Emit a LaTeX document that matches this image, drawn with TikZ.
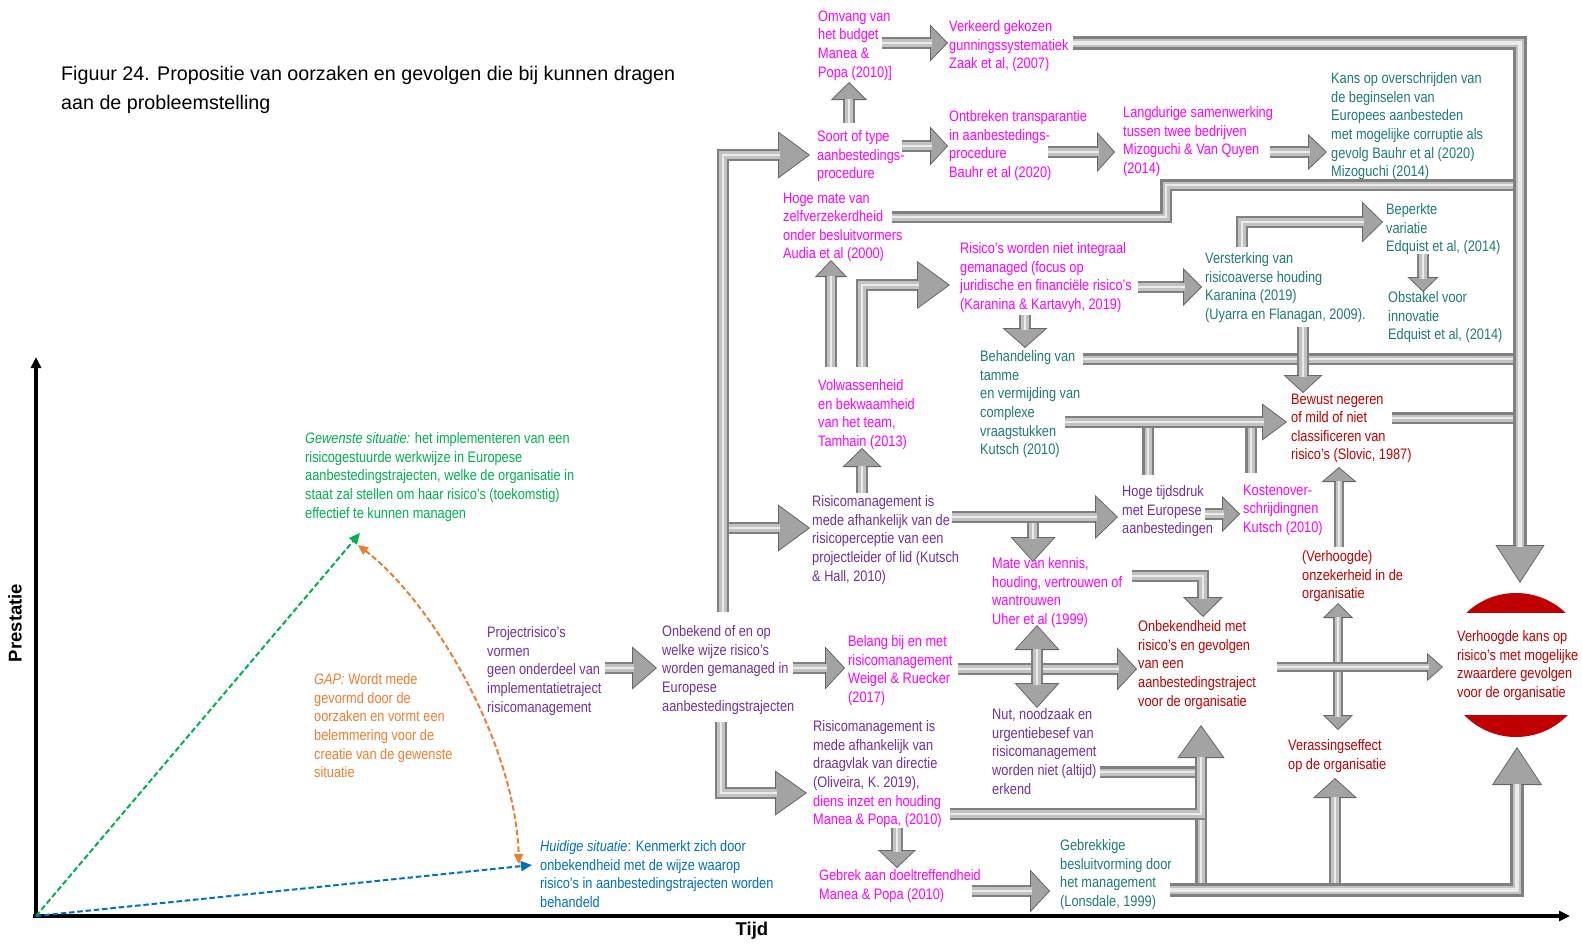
\documentclass[tikz,border=0pt]{standalone}
\usepackage{fontspec}
\setmainfont{Liberation Sans}[FakeStretch=0.84]
\newfontfamily\plainsans{Liberation Sans}
\usetikzlibrary{arrows.meta}
\definecolor{cmag}{RGB}{255,0,255}
\definecolor{cteal}{RGB}{30,122,116}
\definecolor{cpurple}{RGB}{112,48,160}
\definecolor{cred}{RGB}{192,0,0}
\definecolor{cgreen}{RGB}{0,176,80}
\definecolor{corange}{RGB}{237,125,49}
\definecolor{cblue}{RGB}{0,112,192}
\definecolor{pipeedge}{gray}{0.50}
\definecolor{pipemid}{gray}{0.76}
\definecolor{pipelight}{gray}{0.92}
\definecolor{tipfill}{gray}{0.64}
\definecolor{tipedge}{gray}{0.40}
\newcommand\tsz{\fontsize{15.2}{18.6}\selectfont}
\begin{document}
\begin{tikzpicture}[x=1pt,y=-1pt,
  lbl/.style={anchor=north west, inner sep=0pt, align=left, font=\tsz},
  pipe/.style={line width=12pt, draw=pipeedge, line join=miter,
    postaction={draw=pipemid, line width=7pt},
    postaction={draw=pipelight, line width=2.6pt}},
  arrw/.style n args={3}{line width=#3, draw=pipeedge, line join=miter,
    -{Triangle[length=#1,width=#2,fill=tipfill,color=tipedge,line width=0.8pt]},
    postaction={draw=pipemid, line width=0.6*#3, -, shorten >=#1-1.5pt},
    postaction={draw=pipelight, line width=0.22*#3, -, shorten >=#1-1.5pt}},
  arr/.style 2 args={arrw={#1}{#2}{12pt}},
  arrtwo/.style n args={3}{line width=#3, draw=pipeedge, line join=miter,
    {Triangle[length=#1,width=#2,fill=tipfill,color=tipedge,line width=0.8pt]}-{Triangle[length=#1,width=#2,fill=tipfill,color=tipedge,line width=0.8pt]},
    postaction={draw=pipemid, line width=0.6*#3, -, shorten >=#1-1.5pt, shorten <=#1-1.5pt},
    postaction={draw=pipelight, line width=0.22*#3, -, shorten >=#1-1.5pt, shorten <=#1-1.5pt}},
  dashy/.style={line width=2pt, dash pattern=on 5.5pt off 2.8pt},
  axis/.style={line width=3.5pt, draw=black, -{Triangle[length=11pt,width=10pt]}}
]
\useasboundingbox (0,0) rectangle (1582,943);

% ---------- title ----------
\node[lbl, font={\plainsans\fontsize{19.7}{28.5}\selectfont}] (title) at (61,66.5)
  {Figuur 24. Propositie van oorzaken en gevolgen die bij kunnen dragen\\aan de probleemstelling};

% ---------- red target: top and bottom caps of a circle ----------
\begin{scope}
  \clip (1430,580) rectangle (1600,612);
  \fill[cred] (1516,665) circle[radius=72];
\end{scope}
\begin{scope}
  \clip (1430,715) rectangle (1600,750);
  \fill[cred] (1516,665) circle[radius=72];
\end{scope}

% ---------- text blocks ----------
\node[lbl, text=cmag] (omvang) at (818,10.5) {Omvang van\\het budget\\Manea \&\\Popa (2010)]};
\node[lbl, text=cmag] (verkeerd) at (949,20.5) {Verkeerd gekozen\\gunningssystematiek\\Zaak et al, (2007)};
\node[lbl, text=cmag] (soort) at (817,130.5) {Soort of type\\aanbestedings-\\procedure};
\node[lbl, text=cmag] (ontbr) at (949,110.5) {Ontbreken transparantie\\in aanbestedings-\\procedure\\Bauhr et al (2020)};
\node[lbl, text=cmag] (langd) at (1123,106.5) {Langdurige samenwerking\\tussen twee bedrijven\\Mizoguchi \& Van Quyen\\(2014)};
\node[lbl, text=cteal] (kans) at (1331,72.5) {Kans op overschrijden van\\de beginselen van\\Europees aanbesteden\\met mogelijke corruptie als\\gevolg Bauhr et al (2020)\\Mizoguchi (2014)};
\node[lbl, text=cmag] (zelf) at (783,192.5) {Hoge mate van\\zelfverzekerdheid\\onder besluitvormers\\Audia et al (2000)};
\node[lbl, text=cmag] (integr) at (960,242.5) {Risico’s worden niet integraal\\gemanaged (focus op\\juridische en financiële risico’s\\(Karanina \& Kartavyh, 2019)};
\node[lbl, text=cteal] (verst) at (1205,252.5) {Versterking van\\risicoaverse houding\\Karanina (2019)\\(Uyarra en Flanagan, 2009).};
\node[lbl, text=cteal] (beperkt) at (1386,203.5) {Beperkte\\variatie\\Edquist et al, (2014)};
\node[lbl, text=cteal] (obstakel) at (1388,291.5) {Obstakel voor\\innovatie\\Edquist et al, (2014)};
\node[lbl, text=cteal] (behand) at (980,350.5) {Behandeling van\\tamme\\en vermijding van\\complexe\\vraagstukken\\Kutsch (2010)};
\node[lbl, text=cmag] (volw) at (818,379.5) {Volwassenheid\\en bekwaamheid\\van het team,\\Tamhain (2013)};
\node[lbl, text=cred] (bewust) at (1291,393.5) {Bewust negeren\\of mild of niet\\classificeren van\\risico’s (Slovic, 1987)};
\node[lbl, text=cpurple] (percep) at (812,495.5) {Risicomanagement is\\mede afhankelijk van de\\risicoperceptie van een\\projectleider of lid (Kutsch\\\& Hall, 2010)};
\node[lbl, text=cpurple] (tijdsdruk) at (1122,485.5) {Hoge tijdsdruk\\met Europese\\aanbestedingen};
\node[lbl, text=cmag] (kosten) at (1243,484.5) {Kostenover-\\schrijdingnen\\Kutsch (2010)};
\node[lbl, text=cmag] (mate) at (992,557.5) {Mate van kennis,\\houding, vertrouwen of\\wantrouwen\\Uher et al (1999)};
\node[lbl, text=cred] (onzeker) at (1302,550.5) {(Verhoogde)\\onzekerheid in de\\organisatie};
\node[lbl, text=cpurple] (proj) at (487,626.5) {Projectrisico’s\\vormen\\geen onderdeel van\\implementatietraject\\risicomanagement};
\node[lbl, text=cpurple] (onb) at (662,625.5) {Onbekend of en op\\welke wijze risico’s\\worden gemanaged in\\Europese\\aanbestedingstrajecten};
\node[lbl, text=cmag] (belang) at (848,635.5) {Belang bij en met\\risicomanagement\\Weigel \& Ruecker\\(2017)};
\node[lbl, text=cred] (onbekend) at (1138,620.5) {Onbekendheid met\\risico’s en gevolgen\\van een\\aanbestedingstraject\\voor de organisatie};
\node[lbl, text=cred] (gevolg) at (1457,630.5) {Verhoogde kans op\\risico’s met mogelijke\\zwaardere gevolgen\\voor de organisatie};
\node[lbl, text=cpurple] (nut) at (992,708.5) {Nut, noodzaak en\\urgentiebesef van\\risicomanagement\\worden niet (altijd)\\erkend};
\node[lbl, text=cpurple] (draag) at (813,720.5) {Risicomanagement is\\mede afhankelijk van\\draagvlak van directie\\(Oliveira, K. 2019),\\\textcolor{cmag}{diens inzet en houding}\\\textcolor{cmag}{Manea \& Popa, (2010)}};
\node[lbl, text=cred] (verras) at (1288,739.5) {Verassingseffect\\op de organisatie};
\node[lbl, text=cmag] (gebrek) at (819,869.5) {Gebrek aan doeltreffendheid\\Manea \& Popa (2010)};
\node[lbl, text=cteal] (besluit) at (1060,839.5) {Gebrekkige\\besluitvorming door\\het management\\(Lonsdale, 1999)};
\node[lbl, text=cgreen] (gewenst) at (305,432.5) {\textit{Gewenste situatie:} het implementeren van een\\risicogestuurde werkwijze in Europese\\aanbestedingstrajecten, welke de organisatie in\\staat zal stellen om haar risico’s (toekomstig)\\effectief te kunnen managen};
\node[lbl, text=corange] (gap) at (314,673.5) {\textit{GAP:} Wordt mede\\gevormd door de\\oorzaken en vormt een\\belemmering voor de\\creatie van de gewenste\\situatie};
\node[lbl, text=cblue] (huidig) at (540,840.5) {\textit{Huidige situatie}: Kenmerkt zich door\\onbekendheid met de wijze waarop\\risico’s in aanbestedingstrajecten worden\\behandeld};

% ---------- axes ----------
\coordinate (orig) at (36,916);
\coordinate (ytop) at (36,357);
\coordinate (xend) at (1570,916);
\draw[axis] (orig) -- (ytop);
\draw[axis] ([xshift=-3pt]orig) -- (xend);
\node[font={\plainsans\bfseries\fontsize{18.5}{22}\selectfont}, rotate=90] (prest) at (15,623) {Prestatie};
\node[font={\plainsans\bfseries\fontsize{18.5}{22}\selectfont}] (tijd) at (752,931) {Tijd};

% ---------- situation arrows ----------
\coordinate (gpt) at (360,533);
\coordinate (hpt) at (532,865);
\coordinate (gapA) at (358,545);
\coordinate (gapB) at (519,864);
\draw[dashy, cgreen, -{Triangle[length=11pt,width=10pt]}] (orig) -- (gpt);
\draw[dashy, cblue, -{Triangle[length=11pt,width=10pt]}] (orig) -- (hpt);
\draw[dashy, corange, {Triangle[length=10pt,width=9pt]}-{Triangle[length=10pt,width=9pt]}]
  (gapA) .. controls (430,600) and (515,740) .. (gapB);

% ---------- connector end points ----------
\coordinate (tr-bot) at (723,612);
\coordinate (tr-top) at (723,155);
\coordinate (soort-in) at (810,155);
\coordinate (tr-mid) at (723,528);
\coordinate (percep-in) at (810,528);
\coordinate (proj-out) at (605,668);
\coordinate (onb-in) at (657,668);
\coordinate (onb-out) at (793,668);
\coordinate (belang-in) at (845,668);
\coordinate (onb-down) at (721,722);
\coordinate (draag-in) at (807,793);
\coordinate (soort-up) at (849,123);
\coordinate (omvang-in) at (849,82);
\coordinate (omvang-out) at (882,43);
\coordinate (verkeerd-in) at (948,43);
\coordinate (verkeerd-out) at (1073,43);
\coordinate (trR-top) at (1520,43);
\coordinate (gevolg-top) at (1520,583);
\coordinate (soort-out) at (902,146);
\coordinate (ontbr-in) at (948,146);
\coordinate (ontbr-out) at (1048,152);
\coordinate (langd-in) at (1115,152);
\coordinate (langd-out) at (1270,152);
\coordinate (kans-in) at (1327,152);
\coordinate (zelf-out) at (892,217);
\coordinate (zelf-step) at (1166,185);
\coordinate (trR-a) at (1520,185);
\coordinate (volw-up1) at (831,367);
\coordinate (zelf-in) at (831,260);
\coordinate (volw-up2) at (862,367);
\coordinate (integr-in) at (950,285);
\coordinate (integr-down) at (1025,315);
\coordinate (behand-in) at (1025,348);
\coordinate (behand-out) at (1083,359);
\coordinate (trR-b) at (1520,359);
\coordinate (integr-out) at (1138,287);
\coordinate (verst-in) at (1202,287);
\coordinate (verst-up) at (1242,247);
\coordinate (beperkt-in) at (1383,222);
\coordinate (beperkt-down) at (1423,254);
\coordinate (obstakel-in) at (1423,292);
\coordinate (verst-down) at (1303,327);
\coordinate (bewust-top) at (1303,393);
\coordinate (behand-out2) at (1065,422);
\coordinate (bewust-in) at (1287,422);
\coordinate (tijdsdruk-up) at (1148,475);
\coordinate (kosten-up) at (1251,473);
\coordinate (bewust-out) at (1392,418);
\coordinate (trR-c) at (1520,418);
\coordinate (percep-up) at (862,493);
\coordinate (volw-in) at (862,448);
\coordinate (percep-out) at (952,517);
\coordinate (tijdsdruk-in) at (1118,517);
\coordinate (percep-down) at (1033,523);
\coordinate (mate-in) at (1033,562);
\coordinate (tijdsdruk-out) at (1205,514);
\coordinate (kosten-in) at (1240,514);
\coordinate (mate-out) at (1132,576);
\coordinate (onbekend-top) at (1203,617);
\coordinate (belang-out) at (958,669);
\coordinate (onbekend-in) at (1137,669);
\coordinate (mate-bot) at (1037,625);
\coordinate (nut-top) at (1037,708);
\coordinate (onbekend-out) at (1277,667);
\coordinate (gevolg-in) at (1443,667);
\coordinate (onzeker-bot) at (1338,603);
\coordinate (verras-top) at (1338,730);
\coordinate (onzeker-up) at (1339,547);
\coordinate (bewust-bot) at (1339,467);
\coordinate (draag-out) at (950,814);
\coordinate (onbekend-bot) at (1201,725);
\coordinate (nut-out) at (1100,772);
\coordinate (draag-down) at (897,828);
\coordinate (gebrek-in) at (897,868);
\coordinate (gebrek-out) at (972,891);
\coordinate (besluit-in) at (1050,891);
\coordinate (besluit-out) at (1170,890);
\coordinate (gevolg-bot) at (1517,747);
\coordinate (join-low) at (1201,890);
\coordinate (verras-low) at (1335,890);
\coordinate (verras-bot) at (1335,778);

% ---------- connectors: joining pipes first ----------
\draw[pipe] (zelf-out) -| (zelf-step) -- (trR-a);
\draw[pipe] (behand-out) -- (trR-b);
\draw[pipe] (bewust-out) -- (trR-c);
\draw[pipe] (tijdsdruk-up) -- (tijdsdruk-up |- behand-out2);
\draw[pipe] (kosten-up) -- (kosten-up |- behand-out2);
\draw[pipe] (nut-out) -- (nut-out -| onbekend-bot);
\draw[pipe] (join-low) -- (join-low |- draag-out);

% ---------- connectors with arrow heads ----------
\draw[arr={32pt}{47pt}] (tr-mid) -- (percep-in);
\draw[arr={32pt}{47pt}] (tr-bot) -- (tr-top) -- (soort-in);
\draw[arr={25pt}{43pt}] (proj-out) -- (onb-in);
\draw[arr={20pt}{43pt}] (onb-out) -- (belang-in);
\draw[arr={32pt}{45pt}] (onb-down) |- (draag-in);
\draw[arr={18pt}{36pt}] (soort-up) -- (omvang-in);
\draw[arr={18pt}{37pt}] (omvang-out) -- (verkeerd-in);
\draw[arrw={38pt}{49pt}{14pt}] (verkeerd-out) -- (trR-top) -- (gevolg-top);
\draw[arr={18pt}{39pt}] (soort-out) -- (ontbr-in);
\draw[arr={18pt}{40pt}] (ontbr-out) -- (langd-in);
\draw[arr={19pt}{36pt}] (langd-out) -- (kans-in);
\draw[arr={17pt}{32pt}] (volw-up1) -- (zelf-in);
\draw[arr={33pt}{48pt}] (volw-up2) |- (integr-in);
\draw[arr={20pt}{45pt}] (integr-down) -- (behand-in);
\draw[arr={19pt}{38pt}] (integr-out) -- (verst-in);
\draw[arr={21pt}{41pt}] (verst-up) |- (beperkt-in);
\draw[arr={15pt}{31pt}] (beperkt-down) -- (obstakel-in);
\draw[arr={18pt}{39pt}] (verst-down) -- (bewust-top);
\draw[arr={25pt}{37pt}] (behand-out2) -- (bewust-in);
\draw[arr={19pt}{39pt}] (percep-up) -- (volw-in);
\draw[arr={23pt}{44pt}] (percep-out) -- (tijdsdruk-in);
\draw[arr={25pt}{45pt}] (percep-down) -- (mate-in);
\draw[arr={18pt}{36pt}] (tijdsdruk-out) -- (kosten-in);
\draw[arr={20pt}{40pt}] (mate-out) -| (onbekend-top);
\draw[arr={20pt}{43pt}] (belang-out) -- (onbekend-in);
\draw[arrtwo={25pt}{45pt}{12pt}] (mate-bot) -- (nut-top);
\draw[arrtwo={15pt}{30pt}{10pt}] (onzeker-bot) -- (verras-top);
\draw[arrw={16pt}{28pt}{10pt}] (onbekend-out) -- (gevolg-in);
\draw[arrw={15pt}{35pt}{10pt}] (onzeker-up) -- (bewust-bot);
\draw[arr={33pt}{47pt}] (draag-out) -| (onbekend-bot);
\draw[arr={18pt}{38pt}] (draag-down) -- (gebrek-in);
\draw[arr={20pt}{43pt}] (gebrek-out) -- (besluit-in);
\draw[arr={20pt}{44pt}] (verras-low) -- (verras-bot);
\draw[arrw={38pt}{50pt}{14pt}] (besluit-out) -| (gevolg-bot);
\end{tikzpicture}
\end{document}
